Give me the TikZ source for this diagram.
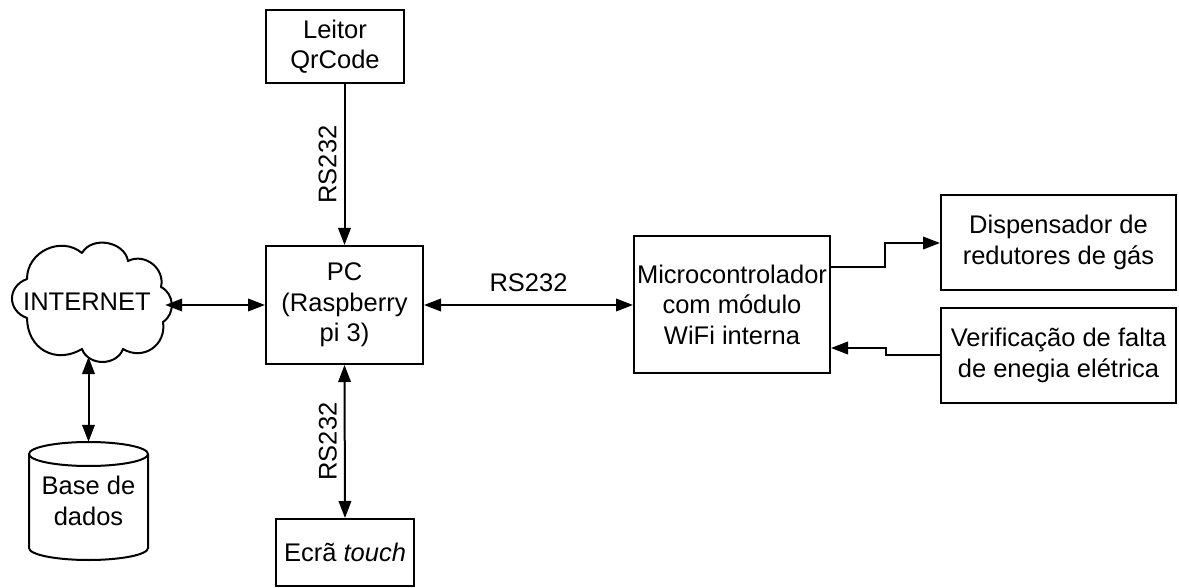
\documentclass[tikz,border=0pt]{standalone}
\usepackage{fontspec}
\setmainfont{Liberation Sans}
\usetikzlibrary{arrows.meta}
\begin{document}
\begin{tikzpicture}[x=1pt,y=-1pt,
  every node/.style={font=\fontsize{25.5}{30.5}\selectfont, inner sep=0pt, align=center},
  blk/.style={draw, line width=2pt, rectangle},
  lbl/.style={font=\fontsize{25.5}{30.5}\selectfont},
  tip/.style={Triangle[length=17pt,width=12.5pt]},
  arr/.style={line width=2pt, -{Triangle[length=17pt,width=12.5pt]}},
  biarr/.style={line width=2pt, {Triangle[length=17pt,width=12.5pt]}-{Triangle[length=17pt,width=12.5pt]}},
  outline/.style={line width=2pt, line join=round}]
\useasboundingbox (0,0) rectangle (1179,588);

% blocks
\node[blk, minimum width=138pt, minimum height=73pt] (leitor) at (335,46.5) {Leitor\\QrCode};
\node[blk, minimum width=157pt, minimum height=118pt] (pc) at (344.5,305) {PC\\(Raspberry\\pi 3)};
\node[blk, minimum width=196pt, minimum height=137pt] (micro) at (732,304.5) {Microcontrolador\\com módulo\\WiFi interna};
\node[blk, minimum width=235pt, minimum height=95pt] (disp) at (1058.5,242.5) {Dispensador de\\redutores de gás};
\node[blk, minimum width=235pt, minimum height=95pt] (verif) at (1058.5,355.5) {Verificação de falta\\de enegia elétrica};
\node[blk, minimum width=138pt, minimum height=67pt] (ecra) at (345,552.5) {Ecrã \textit{touch}};

% internet cloud
\node[minimum width=156pt, minimum height=112pt] (net) at (87,302) {INTERNET};
\draw[outline]
  (27,279) to[bend left=65, looseness=1.15] (82,253)
  to[bend left=70, looseness=1.1] (128,261)
  to[bend left=65, looseness=1.15] (161,287)
  to[bend left=60, looseness=1.1] (163,322)
  to[bend left=65, looseness=1.25] (123,349)
  to[bend left=70, looseness=1.15] (82,349)
  to[bend left=60, looseness=1.25] (27,318)
  to[bend left=70, looseness=1.4] cycle;

% database cylinder
\node[minimum width=119pt, minimum height=118pt] (db) at (88.5,501) {Base de\\dados};
\draw[outline] (88.5,454) ellipse [x radius=59.5pt, y radius=12pt];
\draw[outline] (29,454) -- (29,548) arc[start angle=180, end angle=360, x radius=59.5pt, y radius=12pt] -- (148,454);

% connectors
\draw[arr] (leitor.south -| pc.north) -- node[lbl, left=7pt, rotate=90, anchor=south] (l1) {RS232} (pc.north);
\draw[biarr] (pc.south) -- node[lbl, left=7pt, rotate=90, anchor=south] (l2) {RS232} (ecra.north);
\draw[biarr] (net.east |- pc.west) -- (pc.west);
\draw[biarr] (pc.east) -- node[lbl, above=12pt] (l3) {RS232} (pc.east -| micro.west);
\coordinate (nb) at (88.5,357);
\draw[biarr] (nb) -- (db.north);
\coordinate (m1) at (micro.east |- 0,267);
\coordinate (d1) at (disp.west |- 0,243);
\draw[arr] (m1) -| (885,243) -- (d1);
\coordinate (v1) at (verif.west |- 0,355);
\coordinate (m2) at (micro.east |- 0,348);
\draw[arr] (v1) -| (886,348) -- (m2);
\end{tikzpicture}
\end{document}
